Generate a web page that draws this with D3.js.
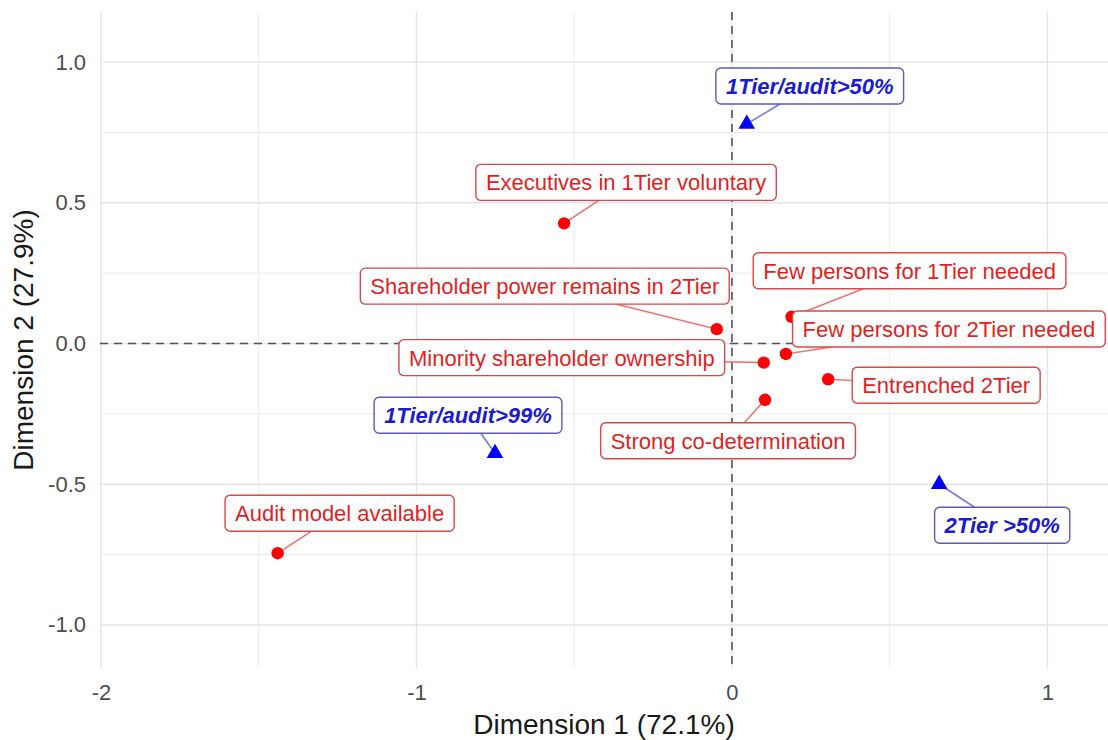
<!DOCTYPE html>
<html>
<head>
<meta charset="utf-8">
<script src="https://cdn.jsdelivr.net/npm/d3@7"></script>
<style>
  body { margin: 0; background: #fff; }
  svg { display: block; font-family: "Liberation Sans", Arial, sans-serif; }
</style>
</head>
<body>
<svg width="1108" height="740"></svg>
<script>
// variables (red points)
const varNames = [
  'Executives in 1Tier voluntary',
  'Shareholder power remains in 2Tier',
  'Few persons for 1Tier needed',
  'Few persons for 2Tier needed',
  'Minority shareholder ownership',
  'Entrenched 2Tier',
  'Strong co-determination',
  'Audit model available'
];
const varDim1 = [-0.532, -0.048, 0.189, 0.171, 0.101, 0.305, 0.105, -1.44];
const varDim2 = [0.427, 0.051, 0.095, -0.037, -0.068, -0.127, -0.200, -0.745];

// groups (blue triangles)
const grpNames = ['1Tier/audit>50%', '1Tier/audit>99%', '2Tier >50%'];
const grpDim1 = [0.047, -0.751, 0.657];
const grpDim2 = [0.780, -0.390, -0.500];

const xTicks = [-2, -1, 0, 1];
const xMinor = [-1.5, -0.5, 0.5];
const yTicks = [-1.0, -0.5, 0.0, 0.5, 1.0];
const yMinor = [-0.75, -0.25, 0.25, 0.75];

// where the repelled labels ended up (px offset of label centre from its point)
const varNudge = [[62, -41], [-172, -43], [118, -46], [163, -25], [-202, -5], [118, 6], [-37, 41], [62, -40]];
const grpNudge = [[63, -38], [-27, -38], [63, 41]];

const svg = d3.select('svg');
const panel = { left: 100, right: 1108, top: 12, bottom: 668 };

const x = d3.scaleLinear().domain([-2.003, 1.192]).range([panel.left, panel.right]);
const y = d3.scaleLinear().domain([-1.153, 1.178]).range([panel.bottom, panel.top]);

// grid
const grid = svg.append('g');
grid.selectAll('.xminor').data(xMinor).enter().append('line')
  .attr('x1', d => x(d)).attr('x2', d => x(d))
  .attr('y1', panel.top).attr('y2', panel.bottom)
  .attr('stroke', '#ececec').attr('stroke-width', 1);
grid.selectAll('.yminor').data(yMinor).enter().append('line')
  .attr('y1', d => y(d)).attr('y2', d => y(d))
  .attr('x1', panel.left).attr('x2', panel.right)
  .attr('stroke', '#ececec').attr('stroke-width', 1);
grid.selectAll('.xmajor').data(xTicks).enter().append('line')
  .attr('x1', d => x(d)).attr('x2', d => x(d))
  .attr('y1', panel.top).attr('y2', panel.bottom)
  .attr('stroke', '#e4e4e4').attr('stroke-width', 1.4);
grid.selectAll('.ymajor').data(yTicks).enter().append('line')
  .attr('y1', d => y(d)).attr('y2', d => y(d))
  .attr('x1', panel.left).attr('x2', panel.right)
  .attr('stroke', '#e4e4e4').attr('stroke-width', 1.4);

// zero lines
svg.append('line')
  .attr('x1', x(0)).attr('x2', x(0)).attr('y1', panel.top).attr('y2', panel.bottom)
  .attr('stroke', '#555').attr('stroke-width', 1.6).attr('stroke-dasharray', '8,6');
svg.append('line')
  .attr('y1', y(0)).attr('y2', y(0)).attr('x1', panel.left).attr('x2', panel.right)
  .attr('stroke', '#555').attr('stroke-width', 1.6).attr('stroke-dasharray', '8,6');

// axes (text only, theme_minimal style)
const xAxis = svg.append('g')
  .attr('transform', `translate(0,${panel.bottom + 4})`)
  .call(d3.axisBottom(x).tickValues(xTicks).tickFormat(d3.format('d')).tickSize(0).tickPadding(12));
const yAxis = svg.append('g')
  .attr('transform', `translate(${panel.left - 14},0)`)
  .call(d3.axisLeft(y).tickValues(yTicks).tickFormat(d3.format('.1f')).tickSize(0).tickPadding(0));
[xAxis, yAxis].forEach(a => {
  a.select('.domain').remove();
  a.selectAll('text').attr('fill', '#4d4d4d').style('font-size', '22px')
    .style('font-family', '"Liberation Sans", Arial, sans-serif');
});
yAxis.selectAll('text').text(d => d3.format('.1f')(d).replace('−', '-'));
xAxis.selectAll('text').text(d => String(d));

svg.append('text')
  .attr('x', (panel.left + panel.right) / 2).attr('y', 734)
  .attr('text-anchor', 'middle')
  .style('font-size', '28px').attr('fill', '#1a1a1a')
  .text('Dimension 1 (72.1%)');
svg.append('text')
  .attr('transform', `translate(33,${(panel.top + panel.bottom) / 2}) rotate(-90)`)
  .attr('text-anchor', 'middle')
  .style('font-size', '28px').attr('fill', '#1a1a1a')
  .text('Dimension 2 (27.9%)');

const vars = varNames.map((n, i) => ({ name: n, d1: varDim1[i], d2: varDim2[i], nudge: varNudge[i], kind: 'var' }));
const grps = grpNames.map((n, i) => ({ name: n, d1: grpDim1[i], d2: grpDim2[i], nudge: grpNudge[i], kind: 'grp' }));
const all = vars.concat(grps);

const style = {
  var: { text: '#e21f1f', border: '#d94848', seg: '#ef7373', weight: 'normal', fstyle: 'normal' },
  grp: { text: '#1b1bd0', border: '#5b5bb8', seg: '#7a7ae0', weight: 'bold', fstyle: 'italic' }
};

// measure labels
const measure = svg.append('g');
all.forEach(d => {
  const s = style[d.kind];
  const t = measure.append('text').style('font-size', '22px')
    .style('font-weight', s.weight).style('font-style', s.fstyle).text(d.name);
  d.tw = t.node().getComputedTextLength();
  d.bw = d.tw + 20;
  d.bh = 36;
  d.px = x(d.d1); d.py = y(d.d2);
  d.cx = d.px + d.nudge[0]; d.cy = d.py + d.nudge[1];
});
measure.remove();

// segment from point to edge of label box
function boxEdge(d) {
  const dx = d.px - d.cx, dy = d.py - d.cy;
  const hw = d.bw / 2, hh = d.bh / 2;
  const t = Math.min(dx !== 0 ? hw / Math.abs(dx) : Infinity, dy !== 0 ? hh / Math.abs(dy) : Infinity);
  return [d.cx + dx * t, d.cy + dy * t];
}
svg.append('g').selectAll('line').data(all).enter().append('line')
  .attr('x1', d => d.px).attr('y1', d => d.py)
  .attr('x2', d => boxEdge(d)[0]).attr('y2', d => boxEdge(d)[1])
  .attr('stroke', d => style[d.kind].seg).attr('stroke-width', 1.6);

// points
svg.append('g').selectAll('circle').data(vars).enter().append('circle')
  .attr('cx', d => d.px).attr('cy', d => d.py).attr('r', 6.2).attr('fill', '#ff0000');
svg.append('g').selectAll('path').data(grps).enter().append('path')
  .attr('d', d3.symbol().type(d3.symbolTriangle).size(120))
  .attr('transform', d => `translate(${d.px},${d.py})`)
  .attr('fill', '#0000ff');

// labels
const lab = svg.append('g').selectAll('g').data(all).enter().append('g')
  .attr('transform', d => `translate(${d.cx},${d.cy})`);
lab.append('rect')
  .attr('x', d => -d.bw / 2).attr('y', d => -d.bh / 2)
  .attr('width', d => d.bw).attr('height', d => d.bh)
  .attr('rx', 5).attr('fill', '#fff')
  .attr('stroke', d => style[d.kind].border).attr('stroke-width', 1.4);
lab.append('text')
  .attr('text-anchor', 'middle').attr('dy', '0.36em')
  .style('font-size', '22px')
  .style('font-weight', d => style[d.kind].weight)
  .style('font-style', d => style[d.kind].fstyle)
  .attr('fill', d => style[d.kind].text)
  .text(d => d.name);
</script>
</body>
</html>
